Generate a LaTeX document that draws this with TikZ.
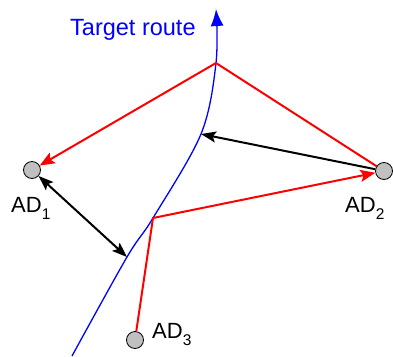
\documentclass[tikz,border=0pt]{standalone}
\usepackage{fontspec}
\setmainfont{Liberation Sans}
\usetikzlibrary{arrows.meta}
\tikzset{
  adnode/.style={circle, draw=black, line width=0.8pt, fill={rgb,255:red,192;green,192;blue,192}, minimum size=17pt, inner sep=0pt},
  redline/.style={draw={rgb,255:red,255;green,0;blue,0}, line width=2pt, line join=miter},
  redarrow/.style={redline, -{Stealth[length=15pt,width=12pt,inset=3pt]}},
  blackarrow/.style={draw=black, line width=2pt, {Stealth[length=15pt,width=11pt,inset=3pt]}-{Stealth[length=15pt,width=11pt,inset=3pt]}},
  blackarrowone/.style={draw=black, line width=2pt, -{Stealth[length=15pt,width=11pt,inset=3pt]}},
  route/.style={draw={rgb,255:red,0;green,0;blue,255}, line width=1.3pt, -{Latex[length=17pt,width=13pt]}},
  lbl/.style={anchor=base west, inner sep=0pt, font=\fontsize{22}{24}\selectfont},
}
\newcommand{\adsub}[1]{\raisebox{-7pt}{\fontsize{15.5}{16}\selectfont #1}}
\begin{document}
\begin{tikzpicture}[x=1pt,y=-1pt]
\useasboundingbox (0,0) rectangle (393,356);
% anchors
\node[adnode] (ad1) at (32,170) {};
\node[adnode] (ad2) at (384,171) {};
\node[adnode] (ad3) at (135,340) {};
\coordinate (p1) at (216,63);
\coordinate (p2) at (153,218);
\coordinate (r1) at (127,257);
\coordinate (r2) at (201,134);
\coordinate (rs) at (72,356);
\coordinate (re) at (216,9);
% route
\draw[route] plot[smooth, tension=0.55] coordinates {(rs) (r1) (p2) (r2) (p1) (re)};
\node[lbl, font=\fontsize{23.5}{26}\selectfont, text={rgb,255:red,0;green,0;blue,255}] (tr) at (70,35) {Target route};
% red paths
\draw[redarrow] (p1) -- (ad1);
\draw[redline] (p1) -- (ad2);
\draw[redarrow] (ad3) -- (p2) -- (ad2);
% black arrows
\draw[blackarrow] (ad1) -- (r1);
\draw[blackarrowone] (ad2) -- (r2);
% labels
\node[lbl] (l1) at (11,212) {AD\adsub{1}};
\node[lbl] (l2) at (345,212) {AD\adsub{2}};
\node[lbl] (l3) at (152,338) {AD\adsub{3}};
\end{tikzpicture}
\end{document}
